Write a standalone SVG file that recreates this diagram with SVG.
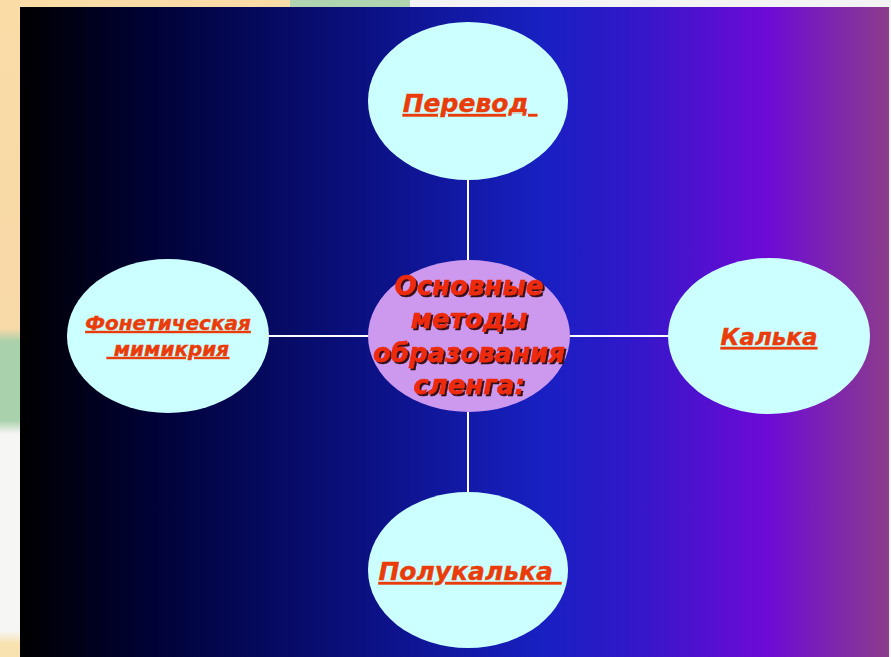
<svg xmlns="http://www.w3.org/2000/svg" width="891" height="657" viewBox="0 0 891 657">
<defs>
<linearGradient id="bg" x1="20" y1="0" x2="889" y2="0" gradientUnits="userSpaceOnUse">
<stop offset="0" stop-color="#000000"/>
<stop offset="0.15" stop-color="#000235"/>
<stop offset="0.38" stop-color="#0a0f7c"/>
<stop offset="0.6" stop-color="#1820c2"/>
<stop offset="0.7" stop-color="#3018c8"/>
<stop offset="0.86" stop-color="#6e0ad6"/>
<stop offset="1" stop-color="#8c3c8c"/>
</linearGradient>
<linearGradient id="strip" x1="0" y1="0" x2="0" y2="657" gradientUnits="userSpaceOnUse">
<stop offset="0" stop-color="#f9dca6"/>
<stop offset="0.5" stop-color="#f8d9a8"/>
<stop offset="0.52" stop-color="#a9d1ac"/>
<stop offset="0.64" stop-color="#a9d1ac"/>
<stop offset="0.66" stop-color="#f6f6f4"/>
<stop offset="0.96" stop-color="#f6f6f4"/>
<stop offset="0.98" stop-color="#f7e2b0"/>
</linearGradient>
<filter id="sh" x="-10%" y="-20%" width="120%" height="150%">
<feDropShadow dx="2" dy="2" stdDeviation="0.6" flood-color="#200000" flood-opacity="0.9"/>
</filter>
</defs>
<style>
.node{fill:#ccffff;}
.center{fill:#cc99ee;}
.lbl{font-family:"DejaVu Sans",Verdana,sans-serif;font-weight:bold;font-style:italic;fill:#ea3c0a;stroke:#ea3c0a;stroke-width:0.4;text-anchor:middle;text-decoration:underline;}
.ctr{font-family:"DejaVu Sans",Verdana,sans-serif;font-weight:bold;font-style:italic;fill:#ee2a10;stroke:#ee2a10;stroke-width:0.5;text-anchor:middle;font-size:26px;filter:url(#sh);}
.conn{stroke:#ffffff;stroke-width:2;fill:none;}
</style>
<rect x="0" y="0" width="891" height="657" fill="#f3f3f4"/>
<rect x="0" y="0" width="20" height="657" fill="url(#strip)"/>
<rect x="0" y="0" width="290" height="7" fill="#f9dca6"/>
<rect x="290" y="0" width="120" height="7" fill="#b0d4b0"/>
<rect x="20" y="7" width="869" height="650" fill="url(#bg)"/>
<g id="connectors">
<line class="conn" x1="468" y1="180" x2="468" y2="262"/>
<line class="conn" x1="468" y1="412" x2="468" y2="493"/>
<line class="conn" x1="268" y1="336" x2="368" y2="336"/>
<line class="conn" x1="570" y1="336" x2="668" y2="336"/>
</g>
<g id="perevod">
<ellipse class="node" cx="468" cy="101" rx="100" ry="79"/>
<text class="lbl" x="470" y="112" font-size="25" xml:space="preserve">Перевод </text>
</g>
<g id="polukalka">
<ellipse class="node" cx="468" cy="570" rx="100" ry="78"/>
<text class="lbl" x="470" y="580" font-size="25" xml:space="preserve">Полукалька </text>
</g>
<g id="fonetika">
<ellipse class="node" cx="168" cy="336" rx="101" ry="77"/>
<text class="lbl" x="168" y="330" font-size="20">Фонетическая</text>
<text class="lbl" x="168" y="356" font-size="20" xml:space="preserve"> мимикрия</text>
</g>
<g id="kalka">
<ellipse class="node" cx="769" cy="336" rx="101" ry="78"/>
<text class="lbl" x="769" y="345" font-size="23">Калька</text>
</g>
<g id="center">
<ellipse class="center" cx="469" cy="336" rx="101" ry="76"/>
<text class="ctr" x="469" y="295">Основные</text>
<text class="ctr" x="469" y="328">методы</text>
<text class="ctr" x="469" y="362">образования</text>
<text class="ctr" x="469" y="394">сленга:</text>
</g>
</svg>
